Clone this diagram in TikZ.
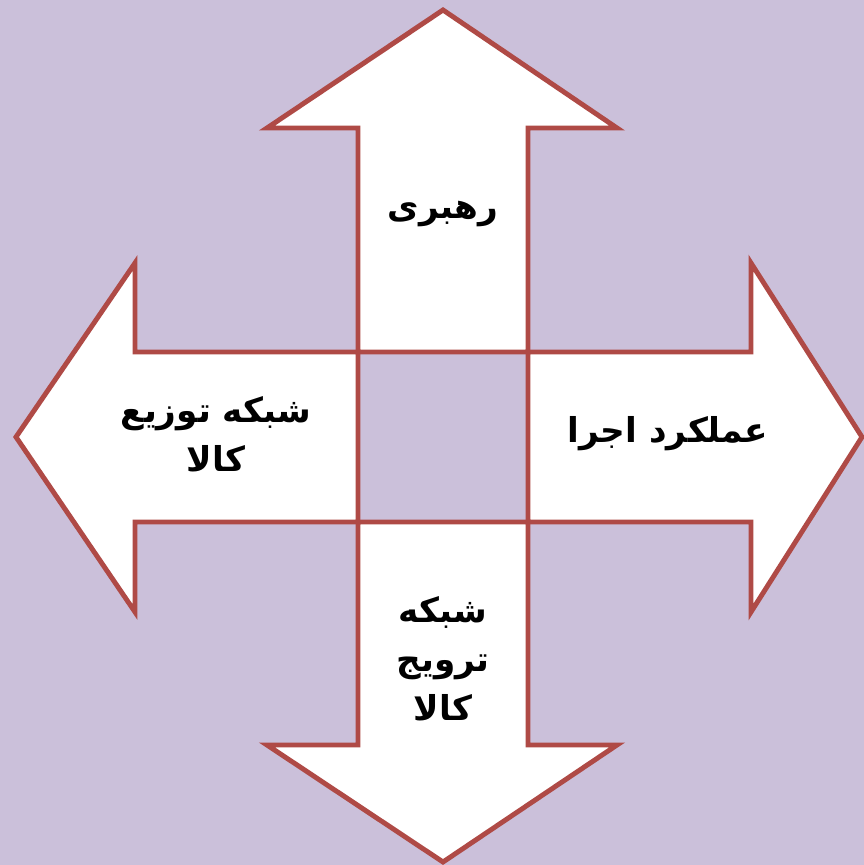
\documentclass[tikz,border=0pt]{standalone}
\usepackage{fontspec}
\usepackage{tikz}
\TeXXeTstate=1
\newfontfamily\arabicfont[Script=Arabic]{DejaVu Sans}
\definecolor{backlilac}{RGB}{203,192,218}
\definecolor{arrowred}{RGB}{175,74,70}
\tikzset{
  arrow-shape/.style={draw=arrowred, fill=white, line width=2.8pt, line join=miter},
  label-text/.style={font=\arabicfont\bfseries\fontsize{19.5}{28}\selectfont, align=center, text=black, inner sep=0pt}
}
\begin{document}
\begin{tikzpicture}[x=0.02cm, y=-0.02cm]
% Background
\fill[backlilac] (0,0) rectangle (864,865);
\useasboundingbox (0,0) rectangle (864,865);

% Four arrows round the centre square
\filldraw[arrow-shape] (358,352) -- (358,128) -- (267,128) -- (443,10) -- (617,128) -- (528,128) -- (528,352) -- cycle;
\filldraw[arrow-shape] (528,352) -- (751,352) -- (751,263) -- (862,437) -- (751,612) -- (751,522) -- (528,522) -- cycle;
\filldraw[arrow-shape] (528,522) -- (528,745) -- (617,745) -- (443,862) -- (267,745) -- (358,745) -- (358,522) -- cycle;
\filldraw[arrow-shape] (358,522) -- (135,522) -- (135,612) -- (16,437) -- (135,263) -- (135,352) -- (358,352) -- cycle;

% Labels
\node[label-text] (lead) at (443,214) {\beginR رهبری\endR};
\node[label-text] (perf) at (668,434) {\beginR عملکرد اجرا\endR};
\node[label-text] (dist) at (216,434) {\beginR شبکه توزیع\endR\\\beginR کالا\endR};
\node[label-text] (prom) at (443,659) {\beginR شبکه\endR\\\beginR ترویج\endR\\\beginR کالا\endR};
\end{tikzpicture}
\end{document}
